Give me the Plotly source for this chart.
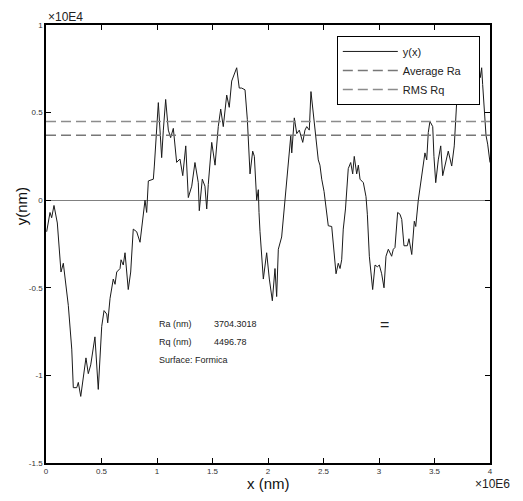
import plotly.graph_objects as go

# Profile y(x); x in units of 1e6 nm, y in units of 1e4 nm (axis multipliers shown as x10E6 / x10E4)
x_scaled = [0.006, 0.036, 0.051, 0.072, 0.102, 0.126, 0.135, 0.156, 0.171, 0.201,
            0.232, 0.246, 0.277, 0.291, 0.313, 0.336, 0.360, 0.381, 0.403, 0.441,
            0.471, 0.502, 0.523, 0.547, 0.556, 0.577, 0.606, 0.622, 0.637, 0.667,
            0.676, 0.696, 0.712, 0.741, 0.763, 0.786, 0.817, 0.847, 0.871, 0.892,
            0.907, 0.922, 0.967, 0.976, 1.012, 1.042, 1.057, 1.078, 1.102, 1.123,
            1.147, 1.177, 1.207, 1.232, 1.259, 1.282, 1.313, 1.342, 1.372, 1.381,
            1.408, 1.432, 1.448, 1.462, 1.493, 1.523, 1.552, 1.574, 1.597, 1.628,
            1.651, 1.673, 1.718, 1.741, 1.763, 1.793, 1.814, 1.838, 1.862, 1.877,
            1.898, 1.913, 1.919, 1.928, 1.958, 1.988, 2.012, 2.039, 2.063, 2.078,
            2.093, 2.123, 2.153, 2.183, 2.205, 2.214, 2.237, 2.259, 2.282, 2.313,
            2.333, 2.349, 2.372, 2.387, 2.408, 2.423, 2.453, 2.468, 2.484, 2.505,
            2.529, 2.543, 2.574, 2.595, 2.613, 2.633, 2.649, 2.664, 2.678, 2.698,
            2.723, 2.745, 2.763, 2.777, 2.799, 2.814, 2.829, 2.859, 2.883, 2.895,
            2.913, 2.943, 2.964, 2.985, 3.003, 3.024, 3.045, 3.063, 3.084, 3.114,
            3.129, 3.144, 3.168, 3.189, 3.205, 3.225, 3.255, 3.270, 3.295, 3.318,
            3.331, 3.354, 3.399, 3.414, 3.430, 3.444, 3.459, 3.484, 3.495, 3.511,
            3.534, 3.556, 3.574, 3.595, 3.624, 3.655, 3.678, 3.700, 3.714, 3.748,
            3.802, 3.856, 3.904, 3.913, 3.925, 3.934, 3.946, 3.955, 3.964, 3.979,
            3.994, 4.000]
y_scaled = [-0.18, -0.07, -0.10, -0.03, -0.13, -0.34, -0.41, -0.36, -0.44, -0.60,
            -0.85, -1.07, -1.07, -1.04, -1.12, -1.02, -0.90, -0.99, -0.94, -0.78,
            -1.08, -0.72, -0.63, -0.65, -0.70, -0.56, -0.45, -0.48, -0.41, -0.39,
            -0.34, -0.37, -0.30, -0.51, -0.41, -0.165, -0.18, -0.24, -0.09, 0.0,
            -0.07, 0.11, 0.12, 0.195, 0.557, 0.243, 0.40, 0.575, 0.40, 0.357,
            0.41, 0.216, 0.235, 0.14, 0.31, 0.015, 0.08, 0.215, 0.10, -0.06,
            0.12, 0.08, -0.05, 0.09, 0.33, 0.20, 0.42, 0.52, 0.42, 0.60,
            0.53, 0.68, 0.756, 0.64, 0.64, 0.63, 0.46, 0.15, 0.28, 0.25,
            0.0, 0.06, -0.07, -0.18, -0.45, -0.30, -0.45, -0.574, -0.39, -0.55,
            -0.28, -0.21, 0.0, 0.195, 0.366, 0.27, 0.47, 0.38, 0.40, 0.33,
            0.40, 0.42, 0.40, 0.62, 0.50, 0.40, 0.23, 0.20, 0.12, 0.05,
            -0.07, -0.146, -0.15, -0.28, -0.42, -0.36, -0.39, -0.34, -0.165, -0.05,
            0.18, 0.215, 0.15, 0.25, 0.15, 0.20, 0.12, 0.10, 0.02, -0.08,
            -0.32, -0.51, -0.37, -0.38, -0.37, -0.42, -0.50, -0.32, -0.28, -0.32,
            -0.28, -0.27, -0.07, -0.08, -0.11, -0.26, -0.26, -0.22, -0.31, -0.12,
            -0.15, 0.0, 0.215, 0.27, 0.23, 0.386, 0.45, 0.42, 0.25, 0.10,
            0.23, 0.31, 0.14, 0.20, 0.28, 0.195, 0.31, 0.56, 0.65, 0.70,
            0.66, 0.72, 0.746, 0.70, 0.756, 0.66, 0.54, 0.42, 0.37, 0.32,
            0.25, 0.215]

Ra_nm = 3704.3018
Rq_nm = 4496.78
surface = "Formica"

x_ticks = [0, 0.5, 1, 1.5, 2, 2.5, 3, 3.5, 4]
x_ticklabels = ["0", "0.5", "1", "1.5", "2", "2.5", "3", "3.5", "4"]
y_ticks = [-1.5, -1, -0.5, 0, 0.5, 1]
y_ticklabels = ["-1.5", "-1", "-0.5", "0", "0.5", "1"]

FONT = "Liberation Sans"
PAD = "\u00a0" * 4

fig = go.Figure()
fig.add_trace(go.Scatter(x=x_scaled, y=y_scaled, mode="lines", name="y(x)",
                         line=dict(color="#1a1a1a", width=1)))
fig.add_trace(go.Scatter(x=[0, 4], y=[Ra_nm / 1e4, Ra_nm / 1e4], mode="lines",
                         name="Average Ra" + PAD, line=dict(color="#777777", width=1.5, dash="10px,5px")))
fig.add_trace(go.Scatter(x=[0, 4], y=[Rq_nm / 1e4, Rq_nm / 1e4], mode="lines",
                         name="RMS Rq", line=dict(color="#8c8c8c", width=1.5, dash="10px,5px")))

axis_common = dict(showline=True, linecolor="black", linewidth=1.5, mirror="ticks",
                   ticks="inside", ticklen=5, tickcolor="black", tickwidth=1,
                   showgrid=False, tickfont=dict(family=FONT, size=8, color="#333333"))

fig.update_xaxes(range=[0, 4], tickvals=x_ticks, ticktext=x_ticklabels,
                 zeroline=False, **axis_common)
fig.update_yaxes(range=[-1.5, 1], tickvals=y_ticks, ticktext=y_ticklabels,
                 zeroline=True, zerolinecolor="#808080", zerolinewidth=1.2, **axis_common)

ann_font = dict(family=FONT, size=9, color="#222222")
annotations = [
    dict(x=1.0, y=-0.707, text="Ra (nm)", xanchor="left", yanchor="middle", font=ann_font),
    dict(x=1.493, y=-0.707, text=f"{Ra_nm:.4f}", xanchor="left", yanchor="middle", font=ann_font),
    dict(x=1.0, y=-0.809, text="Rq (nm)", xanchor="left", yanchor="middle", font=ann_font),
    dict(x=1.493, y=-0.809, text=f"{Rq_nm:.2f}", xanchor="left", yanchor="middle", font=ann_font),
    dict(x=1.0, y=-0.91, text=f"Surface: {surface}", xanchor="left", yanchor="middle", font=ann_font),
    dict(x=3.054, y=-0.707, text="=", xanchor="center", yanchor="middle",
         font=dict(family=FONT, size=16, color="#222222")),
    dict(x=0.0, y=1.0, xref="paper", yref="paper", text="×10E4", xanchor="left", yanchor="bottom",
         yshift=-1, showarrow=False, font=dict(family=FONT, size=12, color="#222222")),
    dict(x=1.05, y=-0.028, xref="paper", yref="paper", text="×10E6", xanchor="right", yanchor="top",
         showarrow=False, font=dict(family=FONT, size=12, color="#222222")),
    dict(x=0.5, y=-0.022, xref="paper", yref="paper", text="x (nm)", xanchor="center", yanchor="top",
         showarrow=False, font=dict(family=FONT, size=15, color="#111111")),
    dict(x=-0.055, y=0.585, xref="paper", yref="paper", text="y(nm)", xanchor="center", yanchor="middle",
         textangle=-90, showarrow=False, font=dict(family=FONT, size=15, color="#111111")),
]
for a in annotations:
    a.setdefault("showarrow", False)

fig.update_layout(
    width=515, height=493,
    margin=dict(l=38, r=33, t=17, b=38),
    paper_bgcolor="white", plot_bgcolor="white",
    font=dict(family=FONT, color="#222222"),
    showlegend=True,
    legend=dict(x=0.655, y=0.975, xanchor="left", yanchor="top",
                bgcolor="white", bordercolor="black", borderwidth=1,
                font=dict(family=FONT, size=11, color="#222222"),
                itemwidth=55, tracegroupgap=0),
    annotations=annotations,
)

fig.write_html("out.html")
